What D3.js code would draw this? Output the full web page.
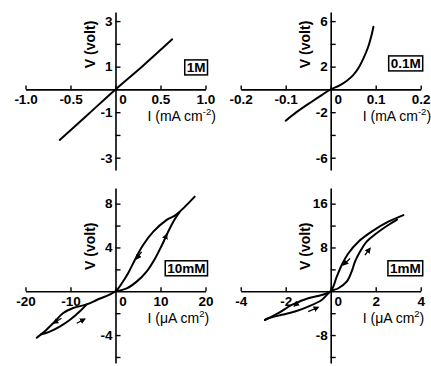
<!DOCTYPE html>
<html>
<head>
<meta charset="utf-8">
<script src="https://cdn.jsdelivr.net/npm/d3@7"></script>
<style>
  body { margin: 0; background: #fff; }
  svg { display: block; }
  text { font-family: "Liberation Sans", Arial, sans-serif; fill: #000; }
</style>
</head>
<body>
<svg id="chart" width="431" height="366"></svg>
<script>
// ---- data ----
// 1M : I in mA cm-2, V in volt
const i1M = [-0.62, -0.3, 0, 0.3, 0.63];
const v1M = [-2.22, -1.08, 0, 1.02, 2.2];

// 0.1M
const i01M = [-0.1, -0.076, -0.039, -0.02, 0, 0.02, 0.036, 0.05, 0.062, 0.073, 0.083, 0.091, 0.095];
const v01M = [-2.75, -2.0, -1.0, -0.5, 0, 0.35, 0.76, 1.25, 1.9, 2.75, 3.7, 4.8, 5.5];

// 10mM : I in uA cm-2, upper and lower branches of the loop
const i10mMUpper = [-17.5, -16.6, -15.7, -13.8, -11.6, -9.4, -6.4, -4.2, 0, 1.4, 2.8, 4.3, 6.1, 8.4, 11.3, 13.5, 17.6];
const v10mMUpper = [-4.25, -3.95, -3.65, -2.9, -1.98, -1.53, -1.2, -0.8, 0, 0.73, 1.65, 2.86, 4.2, 5.44, 6.5, 7.0, 8.64];
const i10mMLowerPos = [0, 2.5, 4.7, 6.9, 8.8, 10.3, 11.7, 13.2, 14.2];
const v10mMLowerPos = [0, 0.27, 0.88, 1.8, 3.0, 4.2, 5.44, 6.6, 7.2];
const i10mMLowerNeg = [-16.6, -14.6, -12.3, -10.1, -7.9, -6.4];
const v10mMLowerNeg = [-3.95, -3.68, -3.2, -2.6, -1.83, -1.2];

// 1mM
const i1mMUpper = [-2.92, -2.33, -1.73, -1.0, -0.4, 0, 0.27, 0.49, 0.78, 1.23, 1.82, 2.56, 3.23];
const v1mMUpper = [-5.24, -4.0, -2.5, -1.28, -0.68, 0, 2.67, 4.8, 6.9, 9.06, 10.9, 12.7, 13.9];
const i1mMLower = [-2.92, -2.77, -2.18, -1.59, -1.0, -0.4, 0, 0.34, 0.71, 0.93, 1.08, 1.3, 1.6, 2.04, 2.56, 2.95];
const v1mMLower = [-5.24, -4.93, -4.3, -3.7, -2.8, -1.6, 0, 0.55, 1.75, 3.6, 5.4, 7.2, 9.06, 10.6, 12.1, 13.1];

// sweep direction arrows: [i0, v0, i1, v1]
const arrows10mM = [[5.8, 3.6, 4.6, 2.95], [10.5, 4.35, 11.4, 5.2], [-12.0, -2.47, -13.8, -2.92], [-8.6, -2.92, -6.8, -2.53]];
const arrows1mM = [[0.86, 6.0, 0.56, 4.8], [1.52, 6.6, 1.75, 7.85], [-1.29, -1.6, -1.62, -2.7], [-1.0, -3.73, -0.55, -2.92]];

// ticks
const xTicks1M = [-1.0, -0.5, 0, 0.5, 1.0];
const xLabels1M = ["-1.0", "-0.5", "0", "0.5", "1.0"];
const yTicks1M = [-3, -2, -1, 1, 2, 3];
const yLabels1M = [-3, -1, 1, 3];

const xTicks01M = [-0.2, -0.1, 0, 0.1, 0.2];
const xLabels01M = ["-0.2", "-0.1", "0", "0.1", "0.2"];
const yTicks01M = [-6, -4, -2, 2, 4, 6];
const yLabels01M = [-6, -2, 2, 6];

const xTicks10mM = [-20, -10, 0, 10, 20];
const xLabels10mM = ["-20", "-10", "0", "10", "20"];
const yTicks10mM = [-6, -4, -2, 2, 4, 6, 8];
const yLabels10mM = [-4, 4, 8];

const xTicks1mM = [-4, -2, 0, 2, 4];
const xLabels1mM = ["-4", "-2", "0", "2", "4"];
const yTicks1mM = [-12, -8, -4, 4, 8, 12, 16];
const yLabels1mM = [-8, 8, 16];

const zip = (a, b) => a.map((d, k) => [d, b[k]]);

const panels = [
  { tag: "1M", unit: "mA", sup: "-2",
    xDom: [-1, 1], xRange: [25.5, 205.5], yDom: [-3.54, 3.4], yRange: [170, 12],
    xTicks: xTicks1M, xLabels: xLabels1M, yTicks: yTicks1M, yLabels: yLabels1M,
    curves: [zip(i1M, v1M)], arrows: [], boxDy: -22 },
  { tag: "0.1M", unit: "mA", sup: "-2",
    xDom: [-0.2, 0.2], xRange: [240.7, 420.7], yDom: [-7.08, 6.8], yRange: [170, 12],
    xTicks: xTicks01M, xLabels: xLabels01M, yTicks: yTicks01M, yLabels: yLabels01M,
    curves: [zip(i01M, v01M)], arrows: [], boxDy: -26 },
  { tag: "10mM", unit: "\u03bcA", sup: "2",
    xDom: [-20, 20], xRange: [25.5, 205.5], yDom: [-6.55, 9.43], yRange: [363, 188],
    xTicks: xTicks10mM, xLabels: xLabels10mM, yTicks: yTicks10mM, yLabels: yLabels10mM,
    curves: [zip(i10mMUpper, v10mMUpper), zip(i10mMLowerPos, v10mMLowerPos), zip(i10mMLowerNeg, v10mMLowerNeg)],
    arrows: arrows10mM, boxDy: -23 },
  { tag: "1mM", unit: "\u03bcA", sup: "2",
    xDom: [-4, 4], xRange: [240.7, 420.7], yDom: [-13.1, 18.86], yRange: [363, 188],
    xTicks: xTicks1mM, xLabels: xLabels1mM, yTicks: yTicks1mM, yLabels: yLabels1mM,
    curves: [zip(i1mMUpper, v1mMUpper), zip(i1mMLower, v1mMLower)],
    arrows: arrows1mM, boxDy: -23 }
];

const svg = d3.select("#chart");

svg.append("defs").append("marker")
  .attr("id", "head")
  .attr("viewBox", "0 0 10 10")
  .attr("refX", 8).attr("refY", 5)
  .attr("markerWidth", 6).attr("markerHeight", 6)
  .attr("markerUnits", "userSpaceOnUse")
  .attr("orient", "auto")
  .append("path")
  .attr("d", "M0,0 L10,5 L0,10 z")
  .attr("fill", "#000");

const FONT = "Liberation Sans, Arial, sans-serif";

panels.forEach(p => {
  const x = d3.scaleLinear().domain(p.xDom).range(p.xRange);
  const y = d3.scaleLinear().domain(p.yDom).range(p.yRange);
  const x0 = x(0), y0 = y(0);
  const g = svg.append("g");

  // x axis through V = 0, ticks pointing up
  const xAxis = g.append("g")
    .attr("transform", `translate(0,${y0})`)
    .call(d3.axisBottom(x).tickValues(p.xTicks)
      .tickFormat((d, k) => p.xLabels[k])
      .tickSizeInner(-4).tickSizeOuter(0).tickPadding(5));
  xAxis.select(".domain").attr("stroke-width", 1.6);
  xAxis.selectAll(".tick line").attr("stroke-width", 1.4);
  xAxis.selectAll(".tick text")
    .attr("font-size", 13.5).attr("font-weight", "bold").attr("font-family", FONT)
    .attr("dx", d => d === 0 ? 7 : 0);

  // y axis through I = 0, ticks pointing right
  const yAxis = g.append("g")
    .attr("transform", `translate(${x0},0)`)
    .call(d3.axisLeft(y).tickValues(p.yTicks)
      .tickFormat(d => p.yLabels.includes(d) ? String(d) : "")
      .tickSizeInner(-5).tickSizeOuter(0).tickPadding(3));
  yAxis.select(".domain").attr("stroke-width", 1.6);
  yAxis.selectAll(".tick line").attr("stroke-width", 1.4);
  yAxis.selectAll(".tick text")
    .attr("font-size", 13.5).attr("font-weight", "bold").attr("font-family", FONT);

  // curves
  const line = d3.line().x(d => x(d[0])).y(d => y(d[1])).curve(d3.curveCatmullRom.alpha(0.5));
  g.selectAll("path.curve").data(p.curves).enter().append("path")
    .attr("class", "curve")
    .attr("d", line)
    .attr("fill", "none")
    .attr("stroke", "#000")
    .attr("stroke-width", 2)
    .attr("stroke-linejoin", "round")
    .attr("stroke-linecap", "round");

  // sweep arrows
  g.selectAll("line.arrow").data(p.arrows).enter().append("line")
    .attr("class", "arrow")
    .attr("x1", d => x(d[0])).attr("y1", d => y(d[1]))
    .attr("x2", d => x(d[2])).attr("y2", d => y(d[3]))
    .attr("stroke", "#000").attr("stroke-width", 1.3)
    .attr("marker-end", "url(#head)");

  // axis titles
  g.append("text")
    .attr("transform", `translate(${x0 - 21},${y0 - 45}) rotate(-90)`)
    .attr("text-anchor", "middle")
    .attr("font-size", 14).attr("font-weight", "bold")
    .text("V (volt)");

  const xt = g.append("text")
    .attr("x", x0 + 32).attr("y", y0 + 32)
    .attr("font-size", 14);
  xt.append("tspan").text(`I (${p.unit} cm`);
  xt.append("tspan").attr("font-size", 9.5).attr("dy", -6).text(p.sup);
  xt.append("tspan").attr("dy", 6).text(")");

  // concentration box
  const bt = g.append("text")
    .attr("x", x0 + 90).attr("y", y0 + p.boxDy)
    .attr("text-anchor", "end")
    .attr("dominant-baseline", "central")
    .attr("font-size", 13.5).attr("font-weight", "bold")
    .text(p.tag);
  const bb = bt.node().getBBox();
  g.insert("rect", () => bt.node())
    .attr("x", bb.x - 2).attr("y", y0 + p.boxDy - 7.5)
    .attr("width", bb.width + 4).attr("height", 15)
    .attr("fill", "none").attr("stroke", "#000").attr("stroke-width", 1.5);
});
</script>
</body>
</html>
